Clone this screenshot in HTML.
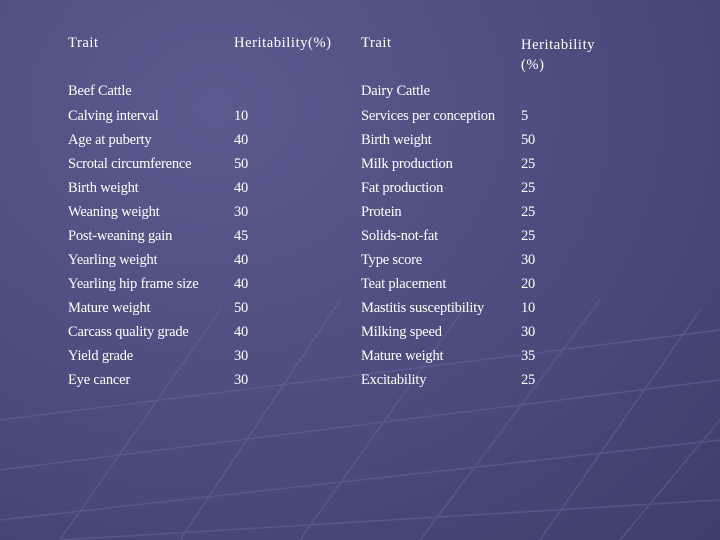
<!DOCTYPE html>
<html><head><meta charset="utf-8"><style>
body{margin:0;width:720px;height:540px;overflow:hidden;background:radial-gradient(ellipse at 30% 20%,#5a5a8e 0%,#4c4c7e 50%,#3e3e6c 100%);font-family:"Liberation Serif",serif;color:#fff;position:relative}
svg{position:absolute;left:0;top:0}
.t{position:absolute;font-size:14.5px;white-space:nowrap;letter-spacing:-0.2px}
.h{font-size:14.5px;letter-spacing:0.6px}
</style></head><body>
<svg width="720" height="540">
<g stroke="#6a6aa0" stroke-width="1.5" fill="none" opacity="0.45">
<path d="M0 420 L720 330"/><path d="M0 470 L720 380"/><path d="M0 520 L720 440"/><path d="M60 540 L720 500"/>
<path d="M300 540 L470 300"/><path d="M420 540 L600 300"/><path d="M540 540 L700 310"/><path d="M180 540 L340 300"/><path d="M60 540 L220 310"/>
<path d="M620 540 L720 420"/>
</g></svg>
<div>
<div class="t h" style="left:68px;top:35px">Trait</div>
<div class="t h" style="left:234px;top:35px">Heritability(%)</div>
<div class="t h" style="left:361px;top:35px">Trait</div>
<div class="t h" style="left:521px;top:35px;line-height:20px">Heritability<br>(%)</div>
<div class="t" style="left:68px;top:83px">Beef Cattle</div>
<div class="t" style="left:361px;top:83px">Dairy Cattle</div>
<div id="rows"></div>
</div>
<script>
const beefTraits=["Calving interval","Age at puberty","Scrotal circumference","Birth weight","Weaning weight","Post-weaning gain","Yearling weight","Yearling hip frame size","Mature weight","Carcass quality grade","Yield grade","Eye cancer"];
const beefValues=[10,40,50,40,30,45,40,40,50,40,30,30];
const dairyTraits=["Services per conception","Birth weight","Milk production","Fat production","Protein","Solids-not-fat","Type score","Teat placement","Mastitis susceptibility","Milking speed","Mature weight","Excitability"];
const dairyValues=[5,50,25,25,25,25,30,20,10,30,35,25];
const rows=document.getElementById('rows');
const cols=[[68,beefTraits,'beef-trait'],[234,beefValues,'beef-value'],[361,dairyTraits,'dairy-trait'],[521,dairyValues,'dairy-value']];
cols.forEach(c=>c[1].forEach((v,i)=>{
const d=document.createElement('div');
d.className='t';
d.style.left=c[0]+'px';d.style.top=(108+i*24)+'px';
d.textContent=v;


rows.appendChild(d);
}));
</script>
</body></html>
